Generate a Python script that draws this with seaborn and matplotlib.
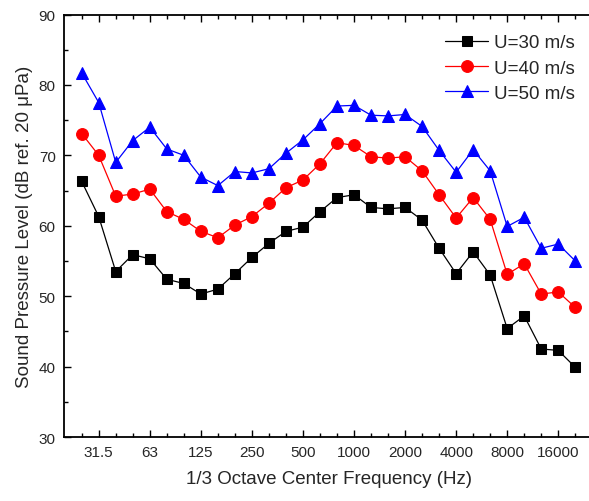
import matplotlib
matplotlib.use("Agg")
import matplotlib.pyplot as plt
import numpy as np
import pandas as pd
import seaborn as sns
from matplotlib.ticker import MultipleLocator, FixedLocator

# 1/3 octave bands, 25 Hz .. 20 kHz
freqs = ["25", "31.5", "40", "50", "63", "80", "100", "125", "160", "200",
         "250", "315", "400", "500", "630", "800", "1000", "1250", "1600", "2000",
         "2500", "3150", "4000", "5000", "6300", "8000", "10000", "12500", "16000", "20000"]
tick_labels = ["31.5", "63", "125", "250", "500", "1000", "2000", "4000", "8000", "16000"]

spl_30 = [66.3, 61.3, 53.5, 55.9, 55.3, 52.4, 51.8, 50.3, 51.0, 53.2,
          55.5, 57.5, 59.2, 59.8, 62.0, 64.0, 64.4, 62.6, 62.4, 62.6,
          60.8, 56.8, 53.2, 56.3, 53.0, 45.4, 47.2, 42.5, 42.3, 39.9]
spl_40 = [73.1, 70.0, 64.2, 64.5, 65.2, 62.0, 60.9, 59.2, 58.3, 60.1,
          61.3, 63.2, 65.4, 66.5, 68.8, 71.8, 71.4, 69.8, 69.6, 69.8,
          67.8, 64.4, 61.1, 64.0, 60.9, 53.1, 54.6, 50.3, 50.6, 48.4]
spl_50 = [81.7, 77.5, 69.0, 72.1, 74.0, 70.9, 70.0, 66.9, 65.7, 67.7,
          67.5, 68.1, 70.3, 72.2, 74.5, 77.0, 77.1, 75.7, 75.6, 75.8,
          74.1, 70.7, 67.6, 70.8, 67.8, 59.9, 61.2, 56.8, 57.4, 55.0]

series = ["U=30 m/s", "U=40 m/s", "U=50 m/s"]
colors = {"U=30 m/s": "black", "U=40 m/s": "red", "U=50 m/s": "blue"}
markers = {"U=30 m/s": "s", "U=40 m/s": "o", "U=50 m/s": "^"}

band = np.arange(len(freqs))
df = pd.concat([
    pd.DataFrame({"band": band, "spl": vals, "series": name})
    for name, vals in zip(series, [spl_30, spl_40, spl_50])
])

sns.set_style("ticks")
plt.rcParams["font.family"] = ["Liberation Sans", "DejaVu Sans"]

fig = plt.figure(figsize=(5.89, 5.02), dpi=100)
ax = fig.add_axes([64 / 589, 1 - 438 / 502, (594 - 64) / 589, (438 - 15.5) / 502])

sns.lineplot(data=df, x="band", y="spl", hue="series", style="series",
             palette=colors, markers=markers, dashes=False, ax=ax,
             linewidth=0.9, markersize=8)

sizes = {"s": 7, "o": 8.5, "^": 9}
for line in ax.lines:
    line.set_markeredgecolor(line.get_color())
    m = line.get_marker()
    if m in sizes:
        line.set_markersize(sizes[m])

ax.set_xlim(-1.04, 30.1)
ax.set_ylim(30, 90)

major_pos = [freqs.index(t) for t in tick_labels]
ax.xaxis.set_major_locator(FixedLocator(major_pos))
ax.xaxis.set_minor_locator(FixedLocator(band))
ax.set_xticklabels(tick_labels)
ax.yaxis.set_major_locator(MultipleLocator(10))
ax.yaxis.set_minor_locator(MultipleLocator(5))

ax.tick_params(which="both", direction="in", top=True, right=False,
               labelsize=11, width=1.0, color="black")
ax.tick_params(which="major", length=5, pad=6)
ax.tick_params(which="minor", length=3)
for sp in ax.spines.values():
    sp.set_linewidth(1.3)
    sp.set_color("black")

ax.set_xlabel("1/3 Octave Center Frequency (Hz)", fontsize=13.5, labelpad=8)
ax.set_ylabel("Sound Pressure Level (dB ref. 20 μPa)", fontsize=13.5, labelpad=4)

handles, labels = ax.get_legend_handles_labels()
ax.legend(handles, labels, loc="upper right", bbox_to_anchor=(0.985, 0.98),
          frameon=False, fontsize=13.5, handlelength=2.3, handletextpad=0.3,
          labelspacing=0.43, borderaxespad=0.2)

fig.savefig("out.png", dpi=100)
